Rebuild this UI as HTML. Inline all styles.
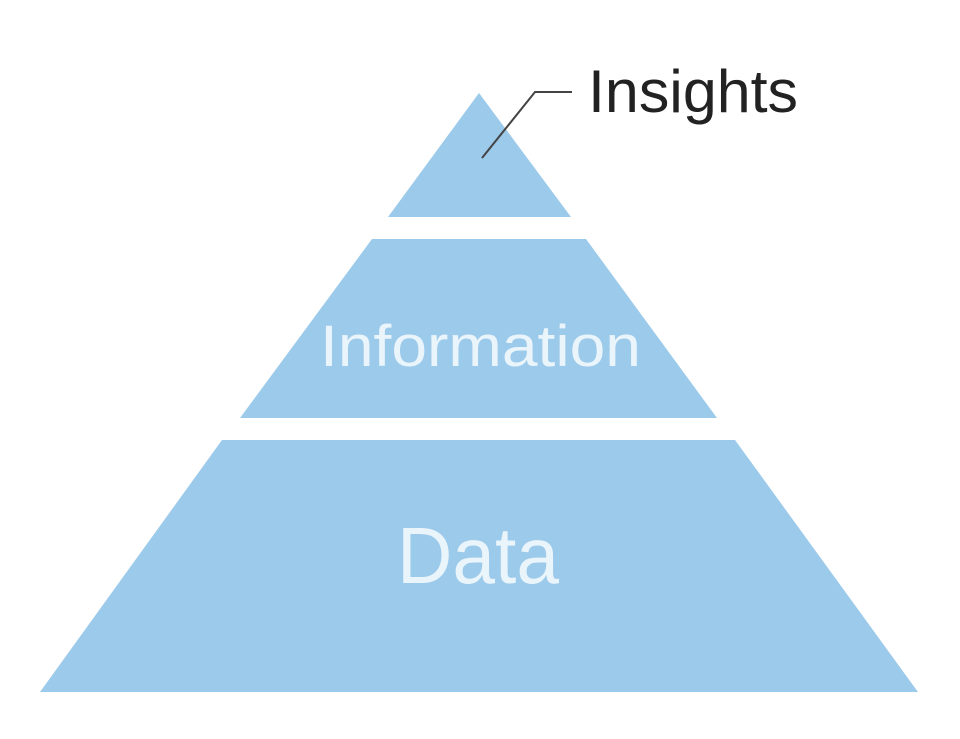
<!DOCTYPE html>
<html><head><style>html,body{margin:0;padding:0;background:#fff;}</style></head>
<body>
<svg width="960" height="734" viewBox="0 0 960 734" xmlns="http://www.w3.org/2000/svg">
<polygon points="479,93 571,217 388,217" fill="#9ccaeb"/>
<polygon points="372,239 586,239 717,418 240,418" fill="#9ccaeb"/>
<polygon points="222,440 735,440 918,692 40,692" fill="#9ccaeb"/>
<polyline points="482,158 535,92 572,92" fill="none" stroke="#444" stroke-width="2"/>
<text x="588" y="112" font-family="Liberation Sans, sans-serif" font-size="60" fill="#222" textLength="210" lengthAdjust="spacingAndGlyphs">Insights</text>
<text x="320" y="366" font-family="Liberation Sans, sans-serif" font-size="58" fill="#eaf4fb" textLength="321" lengthAdjust="spacingAndGlyphs">Information</text>
<text x="397" y="583" font-family="Liberation Sans, sans-serif" font-size="80" fill="#eaf4fb" textLength="162" lengthAdjust="spacingAndGlyphs">Data</text>
</svg>
</body></html>
